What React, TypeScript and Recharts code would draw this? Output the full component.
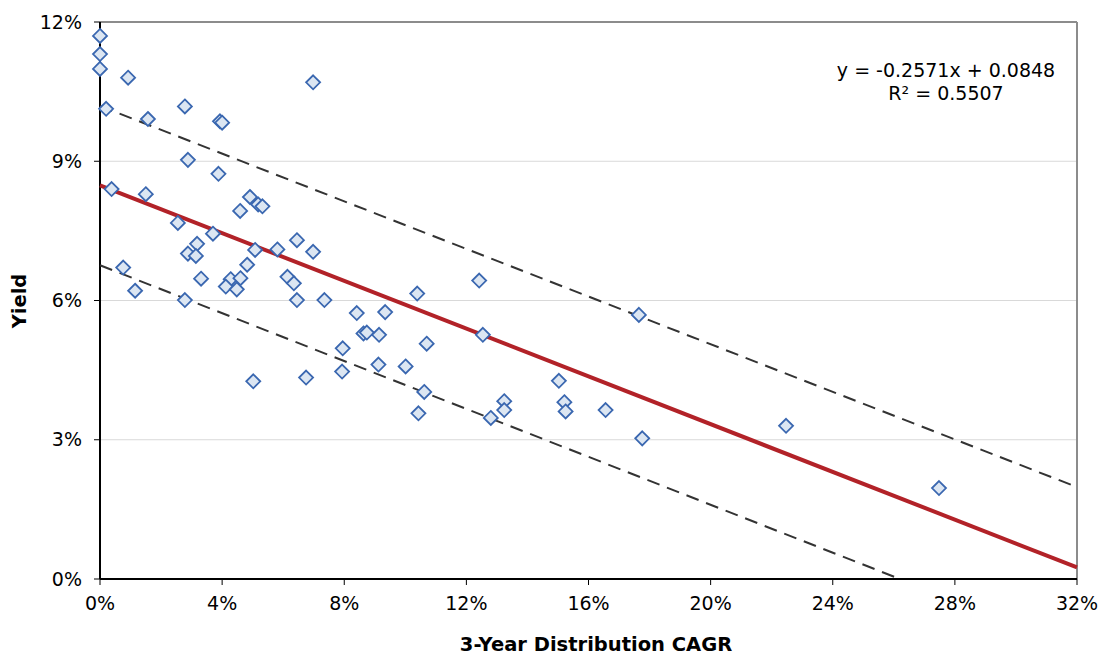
import React from 'react';
import { ScatterChart, Scatter, XAxis, YAxis, CartesianGrid, ReferenceLine, Label, Customized } from 'recharts';

// 3-year distribution CAGR (%) and yield (%) for each holding
const cagr = [
  0, 0, 0, 0.92, 0.2, 1.57, 2.78, 6.98, 3.93, 4.0, 2.88, 3.88, 0.38, 1.5, 4.91, 5.18, 5.32,
  4.59, 2.55, 3.7, 3.18, 6.45, 5.08, 5.81, 6.98, 2.88, 3.14, 0.76, 4.82, 3.31, 4.28, 4.6,
  6.14, 4.12, 4.48, 6.35, 1.15, 2.78, 6.45, 7.35, 10.39, 12.42, 8.41, 9.34, 17.65, 8.63,
  8.74, 9.14, 12.54, 7.95, 10.7, 9.12, 10.01, 5.02, 6.75, 7.93, 15.03, 10.62, 13.24, 13.24,
  15.21, 15.25, 16.56, 10.43, 12.8, 17.76, 22.47, 27.48,
];
const yieldPct = [
  11.7, 11.31, 10.99, 10.8, 10.13, 9.91, 10.18, 10.7, 9.86, 9.83, 9.03, 8.73, 8.4, 8.29,
  8.23, 8.07, 8.03, 7.93, 7.67, 7.44, 7.22, 7.3, 7.09, 7.1, 7.05, 7.01, 6.96, 6.71, 6.77,
  6.47, 6.46, 6.48, 6.51, 6.3, 6.24, 6.37, 6.21, 6.01, 6.01, 6.01, 6.15, 6.43, 5.73, 5.75,
  5.69, 5.29, 5.31, 5.26, 5.26, 4.97, 5.07, 4.62, 4.58, 4.26, 4.34, 4.47, 4.27, 4.03, 3.83,
  3.64, 3.81, 3.61, 3.64, 3.57, 3.47, 3.03, 3.3, 1.96,
];

// regression line and dashed band end points
const trendLine = [{ x: 0, y: 8.48 }, { x: 32, y: 0.25 }];
const upperBand = [{ x: 0, y: 10.19 }, { x: 32, y: 1.98 }];
const lowerBand = [{ x: 0, y: 6.76 }, { x: 26.2, y: 0 }];

const xTicks = [0, 4, 8, 12, 16, 20, 24, 28, 32];
const yTicks = [0, 3, 6, 9, 12];

const points = cagr.map((x, i) => ({ x, y: yieldPct[i] }));

const FONT = 'Verdana, "DejaVu Sans", sans-serif';

const Diamond = (props: any) => {
  const { cx, cy } = props;
  if (cx == null || cy == null) return <g />;
  const r = 7;
  return (
    <path
      d={`M${cx},${cy - r}L${cx + r},${cy}L${cx},${cy + r}L${cx - r},${cy}Z`}
      fill="#dce6f2"
      stroke="#3a67b0"
      strokeWidth={1.8}
    />
  );
};

const NoDot = () => <g />;

const Equation = () => (
  <g fontFamily={FONT} fontSize={19} fill="#000">
    <text x={946} y={70} textAnchor="middle" dominantBaseline="central">y = -0.2571x + 0.0848</text>
    <text x={946} y={93} textAnchor="middle" dominantBaseline="central">R² = 0.5507</text>
  </g>
);

export default function App() {
  const tickStyle = { fill: '#000', fontSize: 19, fontFamily: FONT };
  return (
    <div style={{ position: 'absolute', left: 0, top: 0, width: 1100, height: 656, background: '#fff' }}>
      <ScatterChart width={1100} height={656} margin={{ top: 22, right: 23, left: 0, bottom: 0 }}>
        <CartesianGrid vertical={false} stroke="#d9d9d9" />
        <XAxis
          type="number"
          dataKey="x"
          domain={[0, 32]}
          ticks={xTicks}
          tickFormatter={(v) => `${v}%`}
          height={77}
          tick={tickStyle}
          tickSize={6}
          tickMargin={12}
          axisLine={{ stroke: '#000', strokeWidth: 2 }}
          tickLine={{ stroke: '#000' }}
        >
          <Label
            content={() => (
              <text
                x={596}
                y={644}
                textAnchor="middle"
                dominantBaseline="central"
                fontFamily={FONT}
                fontSize={19.5}
                fontWeight="bold"
                fill="#000"
              >
                3-Year Distribution CAGR
              </text>
            )}
          />
        </XAxis>
        <YAxis
          type="number"
          dataKey="y"
          domain={[0, 12]}
          ticks={yTicks}
          tickFormatter={(v) => `${v}%`}
          width={100}
          tick={tickStyle}
          tickSize={6}
          tickMargin={12}
          axisLine={{ stroke: '#000', strokeWidth: 2 }}
          tickLine={{ stroke: '#000' }}
        >
          <Label
            content={() => (
              <text
                x={19}
                y={301}
                transform="rotate(-90, 19, 301)"
                textAnchor="middle"
                dominantBaseline="central"
                fontFamily={FONT}
                fontSize={19.5}
                fontWeight="bold"
                fill="#000"
              >
                Yield
              </text>
            )}
          />
        </YAxis>
        <ReferenceLine y={12} stroke="#8c8c8c" strokeWidth={2} />
        <ReferenceLine x={32} stroke="#8c8c8c" strokeWidth={2} />
        <Scatter
          data={upperBand}
          line={{ stroke: '#333', strokeWidth: 2, strokeDasharray: '13 8' }}
          shape={NoDot}
          isAnimationActive={false}
        />
        <Scatter
          data={lowerBand}
          line={{ stroke: '#333', strokeWidth: 2, strokeDasharray: '13 8' }}
          shape={NoDot}
          isAnimationActive={false}
        />
        <Scatter
          data={trendLine}
          line={{ stroke: '#b22228', strokeWidth: 4 }}
          shape={NoDot}
          isAnimationActive={false}
        />
        <Scatter data={points} shape={Diamond} isAnimationActive={false} />
        <Customized component={Equation} />
      </ScatterChart>
    </div>
  );
}
